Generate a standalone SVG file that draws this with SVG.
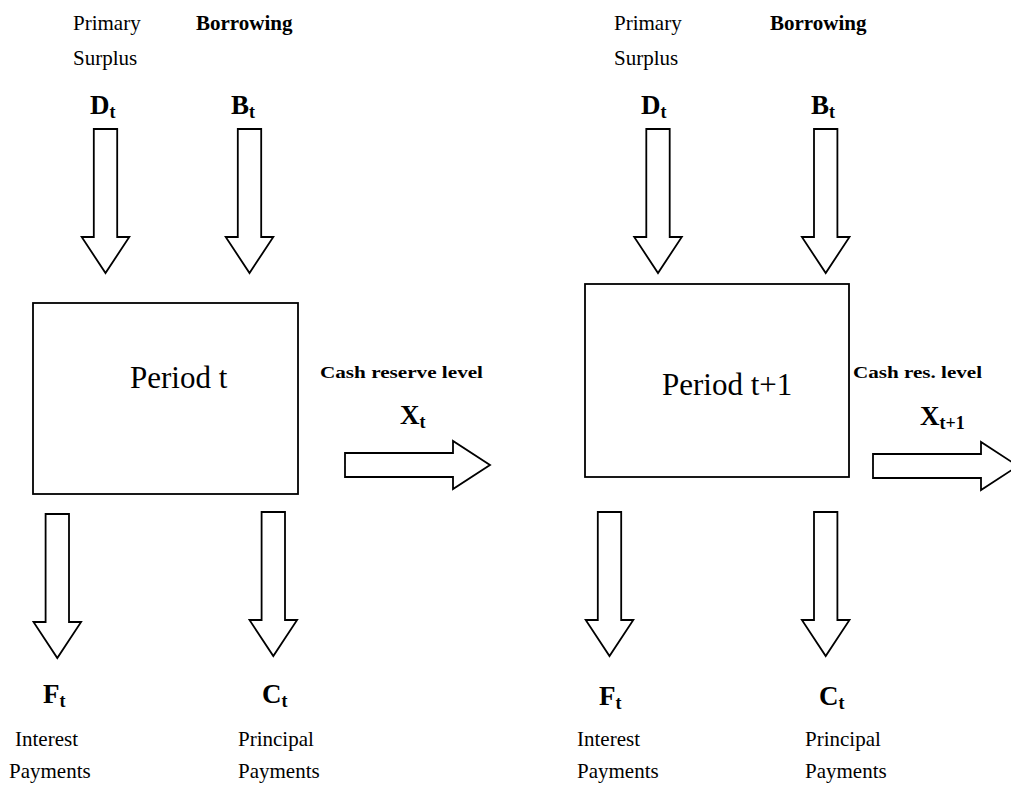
<svg xmlns="http://www.w3.org/2000/svg" width="1011" height="790" viewBox="0 0 1011 790">
  <style>
    .bg { fill: #ffffff; }
    .box { fill: #ffffff; stroke: #000000; stroke-width: 1.8; }
    .flow { fill: #ffffff; stroke: #000000; stroke-width: 1.8; stroke-linejoin: miter; }
    text { font-family: "Liberation Serif", "DejaVu Serif", serif; fill: #000000; }
    .lbl { font-size: 21px; font-weight: 400; font-style: normal; }
    .lblb { font-size: 21px; font-weight: 700; }
    .cash { font-size: 17px; font-weight: 700; }
    .title { font-size: 31px; font-weight: 400; font-style: normal; }
    .sym { font-size: 27px; font-weight: 700; }
    .sub { font-size: 18px; }
  </style>
  <defs>
    <!-- block arrow pointing down, origin at shaft top centre -->
    <path id="downArrow" d="M -11.7 0 L 11.7 0 L 11.7 108 L 23.8 108 L 0 144 L -23.8 108 L -11.7 108 Z"/>
    <!-- block arrow pointing right, origin at shaft left centre -->
    <path id="rightArrow" d="M 0 -12 L 108 -12 L 108 -24 L 145 0 L 108 24 L 108 12 L 0 12 Z"/>
  </defs>
  <rect class="bg" x="0" y="0" width="1011" height="790"/>

  <!-- Period t -->
  <g id="period-t">
    <rect class="box" x="33" y="303" width="265" height="191"/>
    <text class="title" x="130" y="388">Period t</text>
  </g>

  <!-- Period t+1 -->
  <g id="period-t1">
    <rect class="box" x="585" y="284" width="264" height="193"/>
    <text class="title" x="662" y="395">Period t+1</text>
  </g>

  <!-- inflow labels, period t -->
  <g id="surplus-t">
    <text class="lbl" x="73" y="30">Primary</text>
    <text class="lbl" x="73" y="65">Surplus</text>
    <text class="sym" x="90" y="114">D<tspan class="sub" dy="4">t</tspan></text>
  </g>
  <g id="borrowing-t">
    <text class="lblb" x="196" y="30">Borrowing</text>
    <text class="sym" x="231" y="114">B<tspan class="sub" dy="4">t</tspan></text>
  </g>

  <!-- outflow labels, period t -->
  <g id="interest-t">
    <text class="sym" x="43" y="703">F<tspan class="sub" dy="4">t</tspan></text>
    <text class="lbl" x="15" y="746">Interest</text>
    <text class="lbl" x="9" y="778">Payments</text>
  </g>
  <g id="principal-t">
    <text class="sym" x="262" y="703">C<tspan class="sub" dy="4">t</tspan></text>
    <text class="lbl" x="238" y="746">Principal</text>
    <text class="lbl" x="238" y="778">Payments</text>
  </g>

  <!-- carry-over label, period t -->
  <g id="reserve-t">
    <text class="cash" x="320" y="378" textLength="163" lengthAdjust="spacingAndGlyphs">Cash reserve level</text>
    <text class="sym" x="400" y="424">X<tspan class="sub" dy="4">t</tspan></text>
  </g>

  <!-- inflow labels, period t+1 -->
  <g id="surplus-t1">
    <text class="lbl" x="614" y="30">Primary</text>
    <text class="lbl" x="614" y="65">Surplus</text>
    <text class="sym" x="641" y="114">D<tspan class="sub" dy="4">t</tspan></text>
  </g>
  <g id="borrowing-t1">
    <text class="lblb" x="770" y="30">Borrowing</text>
    <text class="sym" x="811" y="114">B<tspan class="sub" dy="4">t</tspan></text>
  </g>

  <!-- outflow labels, period t+1 -->
  <g id="interest-t1">
    <text class="sym" x="599" y="705">F<tspan class="sub" dy="4">t</tspan></text>
    <text class="lbl" x="577" y="746">Interest</text>
    <text class="lbl" x="577" y="778">Payments</text>
  </g>
  <g id="principal-t1">
    <text class="sym" x="819" y="705">C<tspan class="sub" dy="4">t</tspan></text>
    <text class="lbl" x="805" y="746">Principal</text>
    <text class="lbl" x="805" y="778">Payments</text>
  </g>

  <!-- carry-over label, period t+1 -->
  <g id="reserve-t1">
    <text class="cash" x="853" y="378" textLength="129" lengthAdjust="spacingAndGlyphs">Cash res. level</text>
    <text class="sym" x="920" y="425">X<tspan class="sub" dy="4">t+1</tspan></text>
  </g>

  <!-- cash flow arrows -->
  <g id="connectors">
    <use class="flow" href="#downArrow" x="105.5" y="129"/>
    <use class="flow" href="#downArrow" x="249.5" y="129"/>
    <use class="flow" href="#downArrow" x="57.3" y="514"/>
    <use class="flow" href="#downArrow" x="273.3" y="512"/>
    <use class="flow" href="#rightArrow" x="345" y="465"/>

    <use class="flow" href="#downArrow" x="658" y="129"/>
    <use class="flow" href="#downArrow" x="825.7" y="129"/>
    <use class="flow" href="#downArrow" x="609.5" y="512"/>
    <use class="flow" href="#downArrow" x="825.7" y="512"/>
    <use class="flow" href="#rightArrow" x="873" y="466"/>
  </g>
</svg>
